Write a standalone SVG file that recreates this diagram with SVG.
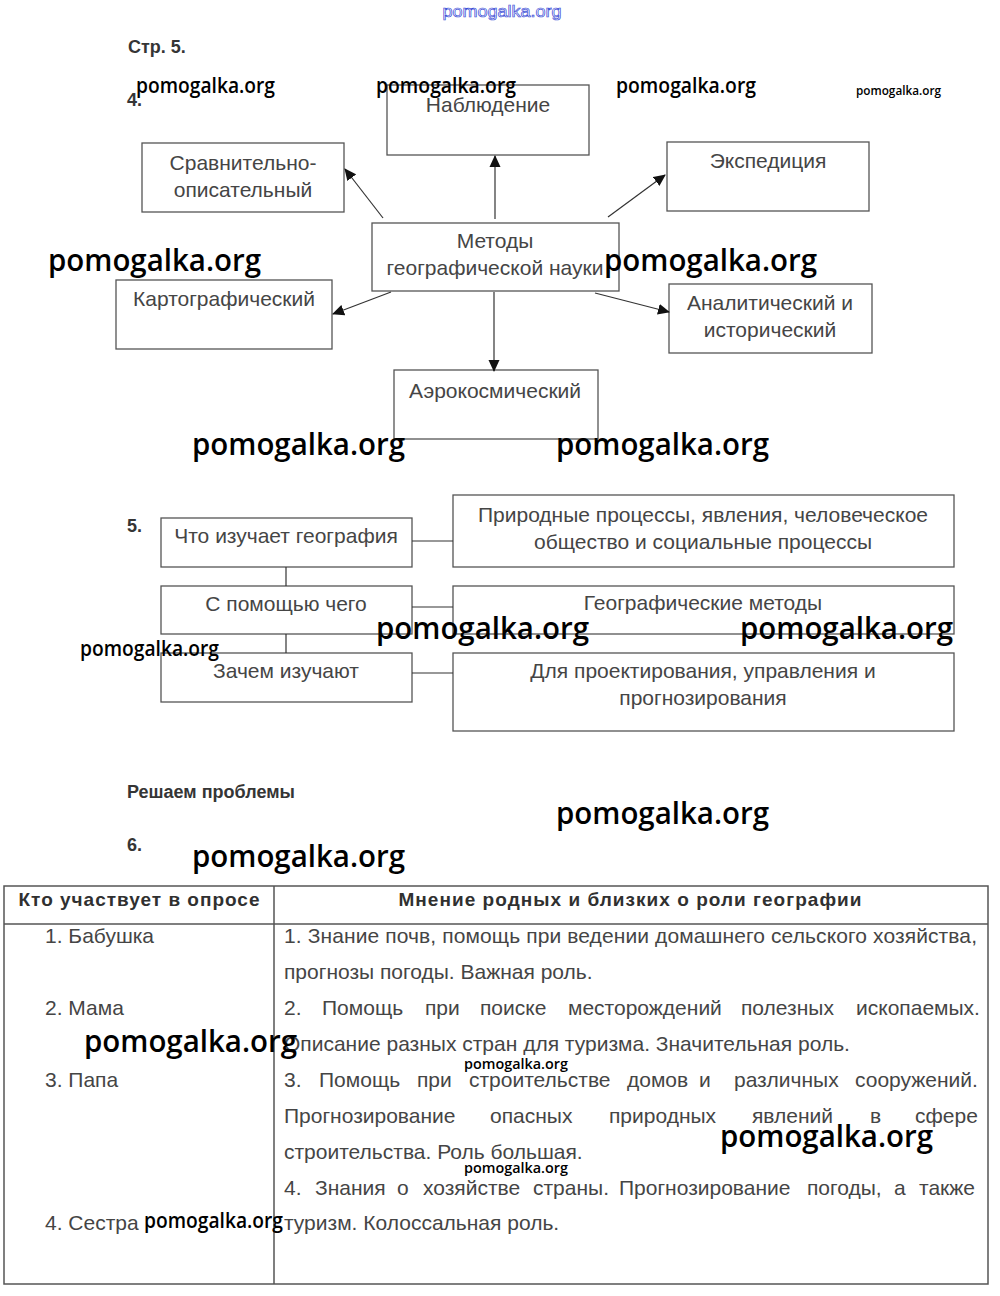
<svg xmlns="http://www.w3.org/2000/svg" width="1000" height="1296" viewBox="0 0 1000 1296">
<style>
.bg{fill:#ffffff}
.box{fill:none;stroke:#555;stroke-width:1.3}
.t{font-family:"Liberation Sans",Arial,sans-serif;font-size:21px;fill:#454545}
.c{text-anchor:middle}
.h{font-family:"Liberation Sans",Arial,sans-serif;font-size:18px;font-weight:bold;fill:#353535}
.hb{font-family:"Liberation Sans",Arial,sans-serif;font-size:19px;font-weight:bold;fill:#303030}
.wm{font-family:"Open Sans","Noto Sans",sans-serif;font-weight:600;fill:#000}
.wl{font-size:31px}
.wmd{font-size:21px}
.ws{font-size:15px}
.line{stroke:#333;stroke-width:1.2;fill:none}
.tl{stroke:#555;stroke-width:1.5;fill:none}
</style>
<defs>
<marker id="ah" markerWidth="12" markerHeight="12" refX="11" refY="6" orient="auto" markerUnits="userSpaceOnUse">
<path d="M0,0.5 L12,6 L0,11.5 Z" fill="#111"/>
</marker>
</defs>
<rect class="bg" x="0" y="0" width="1000" height="1296"/>

<text x="502" y="17" text-anchor="middle" font-family="Liberation Sans,Arial,sans-serif" font-size="17" fill="#ffffff" stroke="#3a4bd6" stroke-width="0.7" textLength="119" lengthAdjust="spacingAndGlyphs">pomogalka.org</text>

<text class="h" x="128" y="53">Стр. 5.</text>
<text class="h" x="127" y="106">4.</text>

<!-- Diagram 4 nodes -->
<g id="nablyudenie"><rect class="box" x="387" y="85" width="202" height="70"/><text class="t c" x="488" y="112">Наблюдение</text></g>
<g id="sravnitelno"><rect class="box" x="142" y="143" width="202" height="69"/><text class="t c" x="243" y="170">Сравнительно-</text><text class="t c" x="243" y="197">описательный</text></g>
<g id="ekspediciya"><rect class="box" x="667" y="142" width="202" height="69"/><text class="t c" x="768" y="168">Экспедиция</text></g>
<g id="metody"><rect class="box" x="372" y="223" width="247" height="68"/><text class="t c" x="495" y="248">Методы</text><text class="t c" x="495" y="275">географической науки</text></g>
<g id="kartograficheskiy"><rect class="box" x="116" y="280" width="216" height="69"/><text class="t c" x="224" y="306">Картографический</text></g>
<g id="analiticheskiy"><rect class="box" x="669" y="284" width="203" height="69"/><text class="t c" x="770" y="310">Аналитический и</text><text class="t c" x="770" y="337">исторический</text></g>
<g id="aerokosmicheskiy"><rect class="box" x="394" y="370" width="204" height="69"/><text class="t c" x="495" y="398">Аэрокосмический</text></g>

<g id="connectors4">
<line class="line" x1="495" y1="219" x2="495" y2="156" marker-end="url(#ah)"/>
<line class="line" x1="383" y1="218" x2="345" y2="169" marker-end="url(#ah)"/>
<line class="line" x1="608" y1="217" x2="665" y2="175" marker-end="url(#ah)"/>
<line class="line" x1="391" y1="292" x2="333" y2="314" marker-end="url(#ah)"/>
<line class="line" x1="595" y1="293" x2="669" y2="312" marker-end="url(#ah)"/>
<line class="line" x1="494" y1="292" x2="494" y2="371" marker-end="url(#ah)"/>
</g>

<!-- Diagram 5 -->
<text class="h" x="127" y="532">5.</text>
<g id="chto"><rect class="box" x="161" y="518" width="251" height="49"/><text class="t c" x="286" y="543">Что изучает география</text></g>
<g id="spomoshchyu"><rect class="box" x="161" y="586" width="251" height="48"/><text class="t c" x="286" y="611">С помощью чего</text></g>
<g id="zachem"><rect class="box" x="161" y="653" width="251" height="49"/><text class="t c" x="286" y="678">Зачем изучают</text></g>
<g id="prirodnye"><rect class="box" x="453" y="495" width="501" height="72"/><text class="t c" x="703" y="522">Природные процессы, явления, человеческое</text><text class="t c" x="703" y="549">общество и социальные процессы</text></g>
<g id="metody5"><rect class="box" x="453" y="586" width="501" height="48"/><text class="t c" x="703" y="610">Географические методы</text></g>
<g id="proektirovanie"><rect class="box" x="453" y="653" width="501" height="78"/><text class="t c" x="703" y="678">Для проектирования, управления и</text><text class="t c" x="703" y="705">прогнозирования</text></g>

<g id="connectors5">
<line class="line" x1="412" y1="541" x2="453" y2="541"/>
<line class="line" x1="412" y1="607" x2="453" y2="607"/>
<line class="line" x1="412" y1="673" x2="453" y2="673"/>
<line class="line" x1="286" y1="567" x2="286" y2="586"/>
<line class="line" x1="286" y1="634" x2="286" y2="653"/>
</g>

<text class="h" x="127" y="798">Решаем проблемы</text>
<text class="h" x="127" y="851">6.</text>

<!-- Table -->
<g id="table">
<rect class="tl" x="4" y="886" width="984" height="398"/>
<line class="tl" x1="4" y1="924" x2="988" y2="924"/>
<line class="tl" x1="274" y1="886" x2="274" y2="1284"/>
<text class="hb" x="139" y="906" text-anchor="middle" textLength="241">Кто участвует в опросе</text>
<text class="hb" x="630" y="906" text-anchor="middle" textLength="463">Мнение родных и близких о роли географии</text>

<text class="t" x="45" y="943">1. Бабушка</text>
<text class="t" x="45" y="1015">2. Мама</text>
<text class="t" x="45" y="1087">3. Папа</text>
<text class="t" x="45" y="1230">4. Сестра</text>

<text class="t" x="284" y="943" textLength="693" lengthAdjust="spacing">1. Знание почв, помощь при ведении домашнего сельского хозяйства,</text>
<text class="t" x="284" y="979">прогнозы погоды. Важная роль.</text>
<text class="t" y="1015"><tspan x="284">2.</tspan><tspan x="322">Помощь</tspan><tspan x="425">при</tspan><tspan x="480">поиске</tspan><tspan x="568">месторождений</tspan><tspan x="741">полезных</tspan><tspan x="856">ископаемых.</tspan></text>
<text class="t" x="284" y="1051">Описание разных стран для туризма. Значительная роль.</text>
<text class="t" y="1087"><tspan x="284">3.</tspan><tspan x="319">Помощь</tspan><tspan x="417">при</tspan><tspan x="469">строительстве</tspan><tspan x="627">домов</tspan><tspan x="699">и</tspan><tspan x="734">различных</tspan><tspan x="855">сооружений.</tspan></text>
<text class="t" y="1123"><tspan x="284">Прогнозирование</tspan><tspan x="490">опасных</tspan><tspan x="609">природных</tspan><tspan x="752">явлений</tspan><tspan x="870">в</tspan><tspan x="915">сфере</tspan></text>
<text class="t" x="284" y="1159">строительства. Роль большая.</text>
<text class="t" y="1195"><tspan x="284">4.</tspan><tspan x="315">Знания</tspan><tspan x="397">о</tspan><tspan x="423">хозяйстве</tspan><tspan x="533">страны.</tspan><tspan x="619">Прогнозирование</tspan><tspan x="807">погоды,</tspan><tspan x="894">а</tspan><tspan x="919">также</tspan></text>
<text class="t" x="284" y="1230">туризм. Колоссальная роль.</text>
</g>

<!-- Watermarks -->
<g id="watermarks" class="wm">
<text class="wmd" x="136" y="93" textLength="139" lengthAdjust="spacingAndGlyphs">pomogalka.org</text>
<text class="wmd" x="376" y="93" textLength="140" lengthAdjust="spacingAndGlyphs">pomogalka.org</text>
<text class="wmd" x="616" y="93" textLength="140" lengthAdjust="spacingAndGlyphs">pomogalka.org</text>
<text x="856" y="95" font-size="13" textLength="85" lengthAdjust="spacingAndGlyphs">pomogalka.org</text>
<text class="wl" x="48" y="271" textLength="213" lengthAdjust="spacingAndGlyphs">pomogalka.org</text>
<text class="wl" x="604" y="271" textLength="213" lengthAdjust="spacingAndGlyphs">pomogalka.org</text>
<text class="wl" x="192" y="455" textLength="213" lengthAdjust="spacingAndGlyphs">pomogalka.org</text>
<text class="wl" x="556" y="455" textLength="213" lengthAdjust="spacingAndGlyphs">pomogalka.org</text>
<text class="wl" x="376" y="639" textLength="213" lengthAdjust="spacingAndGlyphs">pomogalka.org</text>
<text class="wl" x="740" y="639" textLength="213" lengthAdjust="spacingAndGlyphs">pomogalka.org</text>
<text class="wmd" x="80" y="656" textLength="139" lengthAdjust="spacingAndGlyphs">pomogalka.org</text>
<text class="wl" x="556" y="824" textLength="213" lengthAdjust="spacingAndGlyphs">pomogalka.org</text>
<text class="wl" x="192" y="867" textLength="213" lengthAdjust="spacingAndGlyphs">pomogalka.org</text>
<text class="wl" x="84" y="1052" textLength="213" lengthAdjust="spacingAndGlyphs">pomogalka.org</text>
<text class="ws" x="464" y="1069" textLength="104" lengthAdjust="spacingAndGlyphs">pomogalka.org</text>
<text class="wl" x="720" y="1147" textLength="213" lengthAdjust="spacingAndGlyphs">pomogalka.org</text>
<text class="ws" x="464" y="1173" textLength="104" lengthAdjust="spacingAndGlyphs">pomogalka.org</text>
<text class="wmd" x="144" y="1228" textLength="139" lengthAdjust="spacingAndGlyphs">pomogalka.org</text>
</g>
</svg>
